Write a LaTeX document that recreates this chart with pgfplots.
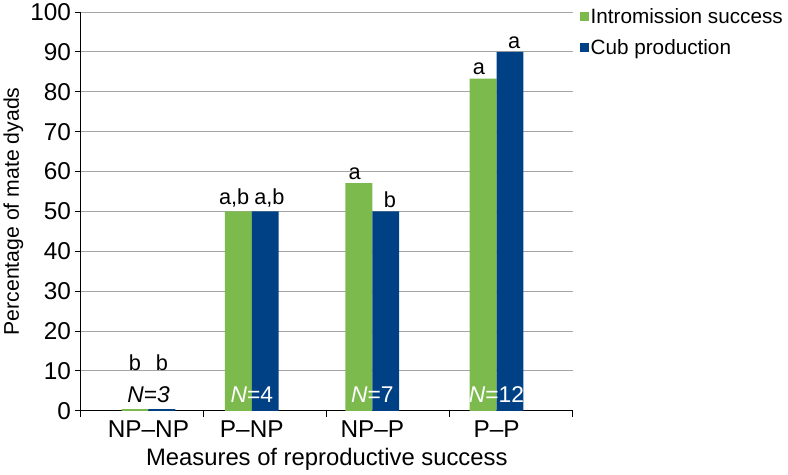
\documentclass[border=0pt]{standalone}
\usepackage{fontspec}
\setmainfont{Liberation Sans}
\usepackage{pgfplots}
\pgfplotsset{compat=1.18}
\definecolor{barGreen}{RGB}{124,186,78}
\definecolor{barBlue}{RGB}{0,65,133}
\definecolor{gridGray}{RGB}{165,165,165}

\begin{document}
\begin{tikzpicture}
\begin{axis}[
  scale only axis, width=475pt, height=385pt,
  ybar=0pt, bar width=26pt,
  xmin=-0.5, xmax=3.5, ymin=0, ymax=100,
  axis lines=left, axis line style={black, line width=1.2pt, -},
  ytick={0,10,...,100},
  xtick={0.05,0.89,1.87,2.88},
  xticklabels={NP--NP,P--NP,NP--P,P--P},
  minor xtick={-0.5,0.5,1.5,2.5,3.5},
  major x tick style={draw=none},
  tick align=outside, major tick length=6pt, minor tick length=6pt,
  tick style={black, line width=1pt},
  ymajorgrids, grid style={gridGray, line width=1pt},
  ticklabel style={font=\fontsize{23.5}{27}\selectfont},
  /pgf/number format/assume math mode=true,
  xlabel={Measures of reproductive success},
  ylabel={Percentage of mate dyads},
  xlabel style={font=\fontsize{23}{27}\selectfont, yshift=-4pt},
  ylabel style={font=\fontsize{20.5}{24}\selectfont},
  legend style={draw=none, fill=none, at={(1,1)}, anchor=north west,
    xshift=4pt, yshift=8pt, font=\fontsize{20}{24}\selectfont,
    row sep=10pt},
  legend cell align=left,
  legend image code/.code={\fill[#1] (0pt,-4pt) rectangle (8pt,4pt);},
  nodes near coords, point meta=explicit symbolic,
  every node near coord/.append style={font=\fontsize{21}{24}\selectfont, black},
]
\addplot[fill=barGreen, draw=none,
  nodes near coords style={xshift=-4pt}] coordinates {
  (0.05,0.4) [] (0.89,50) [a,b] (1.87,57.1) [a] (2.88,83.3) [a]};
\addplot[fill=barBlue, draw=none,
  nodes near coords style={xshift=4pt}] coordinates {
  (0.05,0.4) [] (0.89,50) [a,b] (1.87,50) [b] (2.88,90) [a]};
\legend{Intromission success, Cub production}
\node[font=\fontsize{21}{24}\selectfont, xshift=-13pt] at (axis cs:0.05,12) {b};
\node[font=\fontsize{21}{24}\selectfont, xshift=13pt] at (axis cs:0.05,12) {b};
\node[font=\fontsize{22}{26}\selectfont] at (axis cs:0.05,4) {\textit{N=3}};
\node[font=\fontsize{22}{26}\selectfont, text=white] at (axis cs:0.89,4) {\textit{N}=4};
\node[font=\fontsize{22}{26}\selectfont, text=white] at (axis cs:1.87,4) {\textit{N}=7};
\node[font=\fontsize{22}{26}\selectfont, text=white] at (axis cs:2.88,4) {\textit{N}=12};
\end{axis}
\end{tikzpicture}
\end{document}
